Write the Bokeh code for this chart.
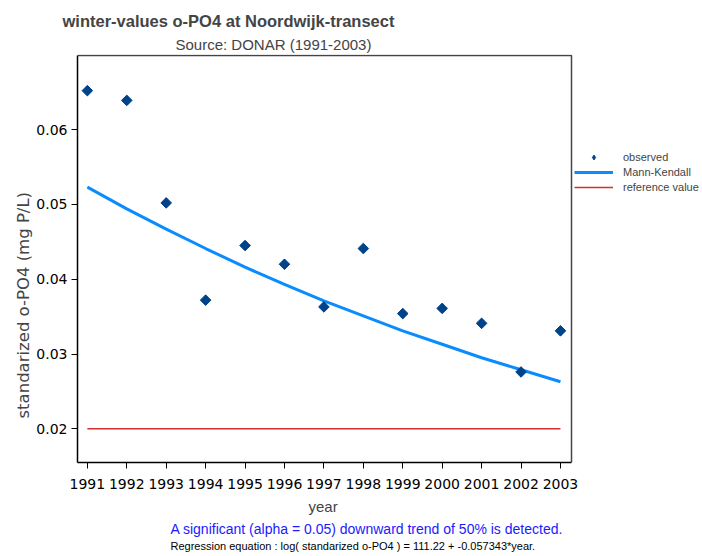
import math
from bokeh.plotting import figure
from bokeh.models import Range1d, FixedTicker, Title, Legend, LegendItem
from bokeh.embed import file_html
from bokeh.resources import INLINE

years = [1991, 1992, 1993, 1994, 1995, 1996, 1997, 1998, 1999, 2000, 2001, 2002, 2003]
observed = [0.0652, 0.0639, 0.0502, 0.0372, 0.0445, 0.0420, 0.0363, 0.0441, 0.0354, 0.0361, 0.0341, 0.0276, 0.0331]
trend = [0.0523, 0.0494, 0.0467, 0.0441, 0.0416, 0.0393, 0.0371, 0.0351, 0.0331, 0.0313, 0.0295, 0.0279, 0.0263]
reference = [0.02] * 13
y_ticks = [0.02, 0.03, 0.04, 0.05, 0.06]

FONT = "Liberation Sans"
WIDE = "DejaVu Sans"

# plot box (axes area) in data units; the frame extends further right to host the legend
X_LO, X_HI = 1990.75, 2003.28
Y_LO, Y_HI = 0.0155, 0.0699
W, H = 702, 556
LEFT, TOP, BOTTOM = 77, 54, 94
BOX_W = 494
x_view_end = X_LO + (X_HI - X_LO) * (W - LEFT) / BOX_W
y_view_end = Y_HI + (Y_HI - Y_LO) * 1.0 / (H - TOP - BOTTOM - 1)

p = figure(width=W, height=H, output_backend="svg", toolbar_location=None,
           title=None,
           x_range=Range1d(X_LO, x_view_end), y_range=Range1d(Y_LO, y_view_end),
           min_border_left=LEFT, min_border_right=0, min_border_top=TOP,
           min_border_bottom=BOTTOM)

p.add_layout(Title(text="Source: DONAR (1991-2003)", text_font=FONT, text_font_size="15px",
                   text_font_style="normal", align="left", offset=98, standoff=4), "above")
p.add_layout(Title(text="winter-values o-PO4 at Noordwijk-transect", text_font=FONT,
                   text_font_size="16.5px", text_font_style="bold", align="left", offset=-15,
                   standoff=4), "above")

p.add_layout(Title(text="year", text_font=FONT, text_font_size="15px",
                   text_font_style="normal", align="left", offset=231, standoff=8), "below")
p.add_layout(Title(text="A significant (alpha = 0.05) downward trend of 50% is detected.",
                   text_font=FONT, text_font_size="14px", text_font_style="normal",
                   text_color="#1a1aff", align="left", offset=93, standoff=0), "below")
p.add_layout(Title(text="Regression equation : log( standarized o-PO4  ) = 111.22 + -0.057343*year.",
                   text_font=FONT, text_font_size="11px", text_font_style="normal",
                   text_color="black", align="left", offset=93, standoff=3), "below")

p.add_layout(Title(text="standarized o-PO4 (mg P/L)", text_font=WIDE, text_font_size="16.5px",
                   text_font_style="normal", align="left", offset=44, standoff=2), "left")

p.grid.visible = False
p.outline_line_color = None
p.background_fill_color = "white"
p.border_fill_color = "white"

for ax in (p.xaxis[0], p.yaxis[0]):
    ax.axis_line_color = "black"
    ax.axis_line_width = 1.5
    ax.major_tick_line_color = "black"
    ax.major_tick_out = 6
    ax.major_tick_in = 0
    ax.minor_tick_line_color = None
    ax.major_label_text_font = WIDE
    ax.major_label_text_font_size = "14px"
    ax.major_label_text_color = "black"

p.xaxis.bounds = (X_LO, X_HI)
p.yaxis.bounds = (Y_LO, Y_HI)
p.xaxis.ticker = FixedTicker(ticks=years)
p.yaxis.ticker = FixedTicker(ticks=y_ticks)
p.xaxis.major_label_standoff = 10
p.yaxis.major_label_standoff = 4

# top and right edges of the plot box
p.line([X_LO, X_HI, X_HI], [Y_HI, Y_HI, Y_LO], line_color="#444444", line_width=1.5)

r_ref = p.line(years, reference, line_color="#d03030", line_width=1.5)
r_trend = p.line(years, trend, line_color="#0a8cff", line_width=3)
# slim diamond (used as the legend key), hidden under the square-diamond markers
r_obs_key = p.scatter(years, observed, marker="diamond", size=9, fill_color="#00438a",
                      line_color="#00438a")
r_obs = p.scatter(years, observed, marker="square", angle=math.pi / 4, size=7.5,
                  fill_color="#00438a", line_color="#00438a", line_width=1)

legend = Legend(items=[LegendItem(label="observed", renderers=[r_obs_key]),
                       LegendItem(label="Mann-Kendall", renderers=[r_trend]),
                       LegendItem(label="reference value", renderers=[r_ref])],
                location=(BOX_W + 3, 269), label_text_font=FONT, label_text_font_size="11px",
                glyph_width=39, glyph_height=12, label_height=12, spacing=3,
                padding=0, margin=0, border_line_alpha=0, background_fill_alpha=0,
                label_standoff=10)
p.add_layout(legend, "center")

open("out.html", "w").write(file_html(p, INLINE))
